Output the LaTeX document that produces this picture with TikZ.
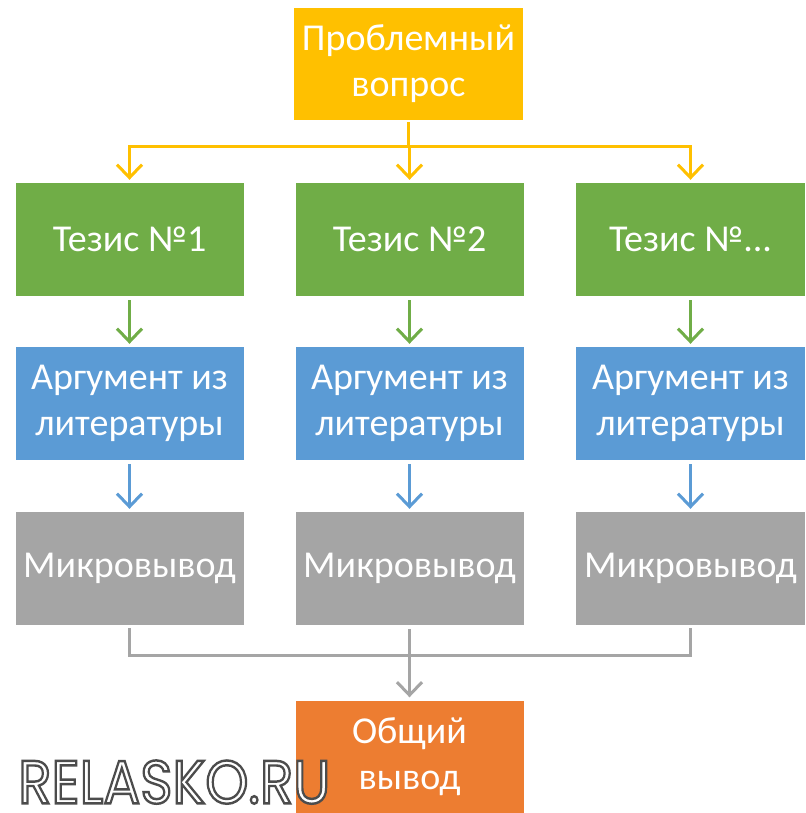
\documentclass[tikz,border=0pt]{standalone}
\usepackage{fontspec}
\usepackage{graphicx}
\setmainfont{Carlito}
\newfontfamily\wmfont{Poppins}
\usetikzlibrary{arrows.meta}
\definecolor{cyel}{HTML}{FFC000}
\definecolor{cgreen}{HTML}{70AD47}
\definecolor{cblue}{HTML}{5B9BD5}
\definecolor{cgray}{HTML}{A5A5A5}
\definecolor{corange}{HTML}{ED7D31}
\newcommand\wmtext{\special{pdf:code q 2 Tr 0.4 w 0.3 0.3 0.3 RG}\resizebox{312pt}{43pt}{\wmfont RELASKO.RU}\special{pdf:code Q}}
\begin{document}
\begin{tikzpicture}[x=1pt,y=-1pt,
  box/.style={rectangle, minimum width=228pt, minimum height=113pt, inner sep=0pt,
    text=white, align=center, font=\fontsize{38}{46}\selectfont},
  conn/.style={line width=3pt},
  link/.style={line width=3pt, shorten >=3pt, shorten <=4pt,
    -{Straight Barb[length=13pt,width=25pt,line width=3pt]}}]
\useasboundingbox (0,0) rectangle (805,813);
\fill[white] (0,0) rectangle (805,813);

\node[box, fill=cyel, minimum width=229pt, minimum height=112pt] (top) at (408.5,64) {Проблемный\\вопрос};

\node[box, fill=cgreen] (t1) at (129.5,239.5) {Тезис №1};
\node[box, fill=cgreen] (t2) at (409.5,239.5) {Тезис №2};
\node[box, fill=cgreen, minimum width=229pt] (t3) at (690.5,239.5) {Тезис №...};

\node[box, fill=cblue] (a1) at (129.5,403.5) {Аргумент из\\литературы};
\node[box, fill=cblue] (a2) at (409.5,403.5) {Аргумент из\\литературы};
\node[box, fill=cblue, minimum width=229pt] (a3) at (690.5,403.5) {Аргумент из\\литературы};

\node[box, fill=cgray] (m1) at (129.5,568.5) {Микровывод};
\node[box, fill=cgray] (m2) at (409.5,568.5) {Микровывод};
\node[box, fill=cgray, minimum width=229pt] (m3) at (690.5,568.5) {Микровывод};

\node[box, fill=corange] (o) at (409.5,757) {Общий\\вывод};

% yellow connectors
\coordinate (yj) at (408.5,147);
\draw[conn, cyel, shorten <=2pt] (top.south) -- (yj);
\draw[conn, cyel] (t1.north |- yj) -- (t3.north |- yj);
\draw[link, cyel, shorten <=-1.5pt] (t1.north |- yj) -- (t1.north);
\draw[link, cyel, shorten <=-1.5pt] (t2.north |- yj) -- (t2.north);
\draw[link, cyel, shorten <=-1.5pt] (t3.north |- yj) -- (t3.north);

% green arrows
\draw[link, cgreen] (t1.south) -- (a1.north);
\draw[link, cgreen] (t2.south) -- (a2.north);
\draw[link, cgreen] (t3.south) -- (a3.north);

% blue arrows
\draw[link, cblue] (a1.south) -- (m1.north);
\draw[link, cblue] (a2.south) -- (m2.north);
\draw[link, cblue] (a3.south) -- (m3.north);

% gray connectors
\coordinate (gj) at (409.5,655);
\draw[conn, cgray, shorten <=3pt, shorten >=3pt] (m1.south) -- (m1.south |- gj) -- (m3.south |- gj) -- (m3.south);
\draw[link, cgray] (m2.south) -- (o.north);

% watermark
\node[anchor=south west, inner sep=0pt, text=white] (wm) at (18,804) {\wmtext};
\end{tikzpicture}
\end{document}
